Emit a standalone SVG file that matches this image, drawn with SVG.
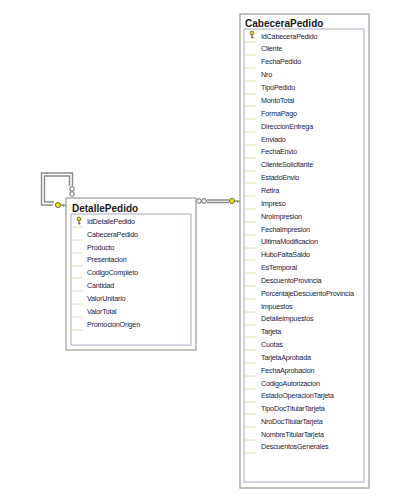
<svg xmlns="http://www.w3.org/2000/svg" width="406" height="503" viewBox="0 0 406 503">
<defs>
<g id="pk"><circle cx="0" cy="-2" r="1.9" fill="#e8e020" stroke="#5a5a20" stroke-width="0.8"/><path d="M0 0V3.6M0 2.600H1.500" fill="none" stroke="#5a5a20" stroke-width="1.1"/></g>
<g id="hk"><circle cx="0" cy="0" r="2.600" fill="#e8e020" stroke="#5a5a20" stroke-width="0.8"/><path d="M2.500 0H7.500M5.500 0V1.600M7.500 0V1.600" fill="none" stroke="#6a6a20" stroke-width="1"/></g>
<path id="tick" d="M0 0H11" stroke="#e2e1b4" stroke-width="1" fill="none"/>
</defs>
<style>
.o{fill:#fff;stroke:#a4a498;stroke-width:1.300}
.i{fill:#fff;stroke:#b2b1cc;stroke-width:1.100}
.t{font:bold 10px "Liberation Sans",Arial,sans-serif;fill:#1a1a1a}
.r{font:7.200px "Liberation Sans",Arial,sans-serif;letter-spacing:-0.2px;fill:#1c2040}
.c{fill:none;stroke:#8a8a8a;stroke-width:1.400}
.e{fill:#fff;stroke:#555;stroke-width:0.9}
</style>
<rect width="406" height="503" fill="#fff"/>
<g id="connectors">
<path class="c" d="M72.500 186V173H41.500V205H53M69.500 186V176H44.500V202H54"/>
<path class="c" d="M207 200H229M207 202.500H229"/>
<circle class="e" cx="72" cy="189" r="2.300"/><circle class="e" cx="72" cy="194" r="2.300"/>
<circle class="e" cx="199" cy="201" r="2.300"/><circle class="e" cx="204" cy="201" r="2.300"/>
<use href="#hk" x="58" y="205"/><use href="#hk" x="232" y="201"/>
</g>
<g id="DetallePedido">
<rect class="o" x="66" y="198" width="130" height="152"/>
<rect class="i" x="71" y="214" width="120" height="131"/>
<text class="t" x="72" y="212">DetallePedido</text>
<use href="#pk" x="79" y="221"/>
<g class="r">
<text x="87" y="224">IdDetallePedido</text><text x="87" y="236.500">CabeceraPedido</text><text x="87" y="249.500">Producto</text><text x="87" y="262">Presentacion</text><text x="87" y="275">CodigoCompleto</text><text x="87" y="288">Cantidad</text><text x="87" y="301">ValorUnitario</text><text x="87" y="313.500">ValorTotal</text><text x="87" y="326.500">PromocionOrigen</text>
</g>
<use href="#tick" x="72" y="227"/><use href="#tick" x="72" y="240"/><use href="#tick" x="72" y="253"/><use href="#tick" x="72" y="266"/><use href="#tick" x="72" y="278"/><use href="#tick" x="72" y="291"/><use href="#tick" x="72" y="304"/><use href="#tick" x="72" y="317"/><use href="#tick" x="72" y="330"/>
</g>
<g id="CabeceraPedido">
<rect class="o" x="240" y="14" width="129" height="474"/>
<rect class="i" x="244" y="29" width="120" height="453"/>
<text class="t" x="245" y="27">CabeceraPedido</text>
<use href="#pk" x="252" y="35"/>
<g class="r">
<text x="261" y="38.500">IdCabeceraPedido</text><text x="261" y="51">Cliente</text><text x="261" y="64">FechaPedido</text><text x="261" y="77">Nro</text><text x="261" y="90">TipoPedido</text><text x="261" y="103">MontoTotal</text><text x="261" y="116">FormaPago</text><text x="261" y="129">DireccionEntrega</text><text x="261" y="141.500">Enviado</text><text x="261" y="154">FechaEnvio</text><text x="261" y="167">ClienteSolicitante</text><text x="261" y="180">EstadoEnvio</text><text x="261" y="193">Retira</text><text x="261" y="206">Impreso</text><text x="261" y="219">NroImpresion</text><text x="261" y="231.500">FechaImpresion</text><text x="261" y="244">UltimaModificacion</text><text x="261" y="257">HuboFaltaSaldo</text><text x="261" y="270">EsTemporal</text><text x="261" y="283">DescuentoProvincia</text><text x="261" y="296">PorcentajeDescuentoProvincia</text><text x="261" y="308.500">Impuestos</text><text x="261" y="321">DetalleImpuestos</text><text x="261" y="334">Tarjeta</text><text x="261" y="347">Cuotas</text><text x="261" y="360">TarjetaAprobada</text><text x="261" y="373">FechaAprobacion</text><text x="261" y="385.500">CodigoAutorizacion</text><text x="261" y="398">EstadoOperacionTarjeta</text><text x="261" y="411">TipoDocTitularTarjeta</text><text x="261" y="424">NroDocTitularTarjeta</text><text x="261" y="437">NombreTitularTarjeta</text><text x="261" y="449">DescuentosGenerales</text>
</g>
<path d="M245 42H256M245 55H256M245 68H256M245 81H256M245 94H256M245 106H256M245 119H256M245 132H256M245 145H256M245 158H256M245 171H256M245 183H256M245 196H256M245 209H256M245 222H256M245 235H256M245 248H256M245 260H256M245 273H256M245 286H256M245 299H256M245 312H256M245 325H256M245 337H256M245 350H256M245 363H256M245 376H256M245 389H256M245 402H256M245 414H256M245 427H256M245 440H256M245 453H256" stroke="#e2e1b4" stroke-width="1" fill="none"/>
</g>
</svg>
